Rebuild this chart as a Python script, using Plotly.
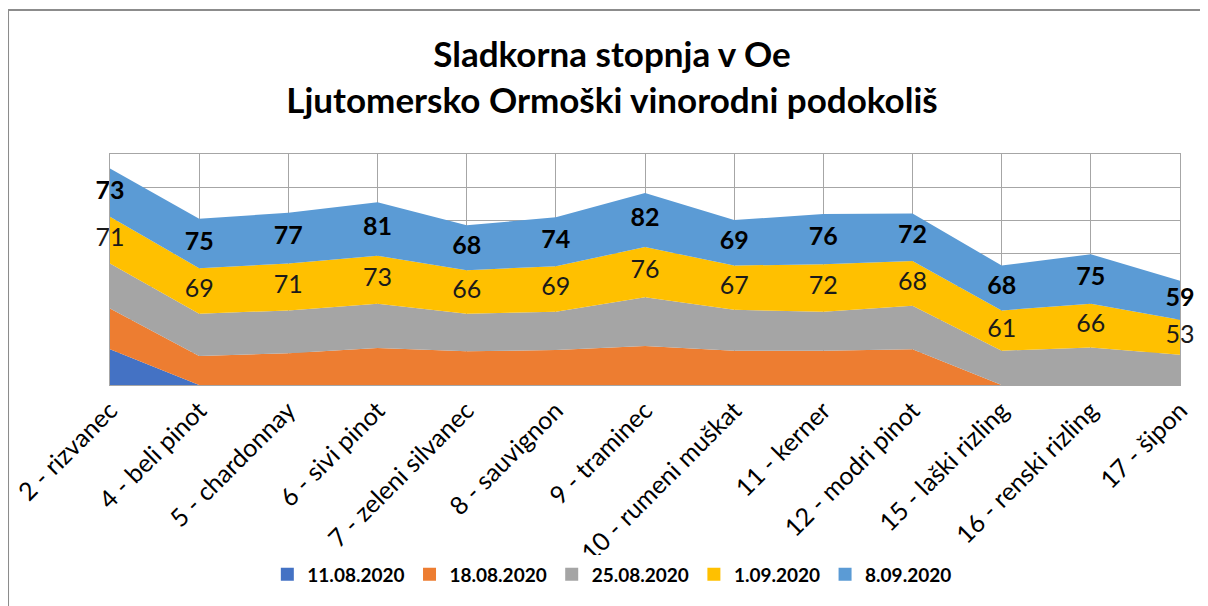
import plotly.graph_objects as go

categories = ["2 - rizvanec", "4 - beli pinot", "5 - chardonnay", "6 - sivi pinot",
              "7 - zeleni silvanec", "8 - sauvignon", "9 - traminec", "10 - rumeni muškat",
              "11 - kerner", "12 - modri pinot", "15 - laški rizling", "16 - renski rizling",
              "17 - šipon"]

s_1108 = [54, 0, 0, 0, 0, 0, 0, 0, 0, 0, 0, 0, 0]
s_1808 = [62, 44, 48, 56, 51, 53, 59, 52, 52, 54, 0, 0, 0]
s_2508 = [68, 64, 65, 67, 57, 58, 74, 62, 59, 66, 52, 57, 46]
s_0109 = [71, 69, 71, 73, 66, 69, 76, 67, 72, 68, 61, 66, 53]
s_0809 = [73, 75, 77, 81, 68, 74, 82, 69, 76, 72, 68, 75, 59]

series_names = ["11.08.2020", "18.08.2020", "25.08.2020", "1.09.2020", "8.09.2020"]
series_vals = [s_1108, s_1808, s_2508, s_0109, s_0809]
colors = ["#4472C4", "#ED7D31", "#A5A5A5", "#FFC000", "#5B9BD5"]

FONT = "Lato"
fig = go.Figure()
for name, vals, col in zip(series_names, series_vals, colors):
    fig.add_trace(go.Scatter(x=categories, y=vals, name=name, stackgroup="one",
                             mode="none", fillcolor=col, hoverinfo="skip",
                             showlegend=False))

# legend entries with square swatches
for name, col in zip(series_names, colors):
    fig.add_trace(go.Scatter(x=[None], y=[None], name=name, mode="markers",
                             marker=dict(symbol="square", size=13, color=col),
                             showlegend=True))

# data labels for 1.09 and 8.09, centred in their bands
cum = [0] * len(categories)
mids = []
for vals in series_vals:
    m = [c + v / 2 for c, v in zip(cum, vals)]
    mids.append(m)
    cum = [c + v for c, v in zip(cum, vals)]

fig.add_trace(go.Scatter(x=categories, y=mids[3], mode="text", text=[str(v) for v in s_0109],
                         textfont=dict(family=FONT, size=25, color="#1a1a1a"),
                         showlegend=False, cliponaxis=False, hoverinfo="skip"))
fig.add_trace(go.Scatter(x=categories, y=mids[4], mode="text", text=[str(v) for v in s_0809],
                         textfont=dict(family=FONT, size=25, color="#000000", weight="bold"),
                         showlegend=False, cliponaxis=False, hoverinfo="skip"))

grid = "#A6A6A6"
fig.update_layout(
    width=1208, height=606,
    margin=dict(l=102, r=36, t=146, b=229, autoexpand=False),
    paper_bgcolor="white", plot_bgcolor="white",
    font=dict(family=FONT, color="#000000"),
    title=dict(text="<b>Sladkorna stopnja v Oe<br>Ljutomersko Ormoški vinorodni podokoliš</b>",
               x=0.5, xanchor="center", y=0.902, yanchor="middle",
               font=dict(family=FONT, size=35, color="#000000")),
    xaxis=dict(range=[0, 12], showgrid=True, gridcolor=grid, gridwidth=1,
               showline=True, linecolor=grid, mirror=True, tickangle=-45,
               automargin=False,
               ticks="", tickfont=dict(family=FONT, size=25, color="#000000")),
    yaxis=dict(range=[0, 350], dtick=50, showgrid=True, gridcolor=grid, gridwidth=1,
               showline=True, linecolor=grid, mirror=True, showticklabels=False,
               automargin=False, zeroline=False, ticks=""),
    legend=dict(orientation="h", x=0.469, xanchor="center", y=-0.82, yanchor="middle",
                font=dict(family=FONT, size=19, color="#000000", weight="bold"),
                traceorder="normal", itemwidth=30),
    showlegend=True,
)

# outer chart border (top and left visible)
fig.add_shape(type="line", xref="paper", yref="paper", x0=-0.0953, x1=1.05, y0=1.6234, y1=1.6234,
              line=dict(color="#8C8C8C", width=2))
fig.add_shape(type="line", xref="paper", yref="paper", x0=-0.0953, x1=-0.0953, y0=1.6234, y1=-1.0,
              line=dict(color="#8C8C8C", width=2))

fig.write_html("out.html")
